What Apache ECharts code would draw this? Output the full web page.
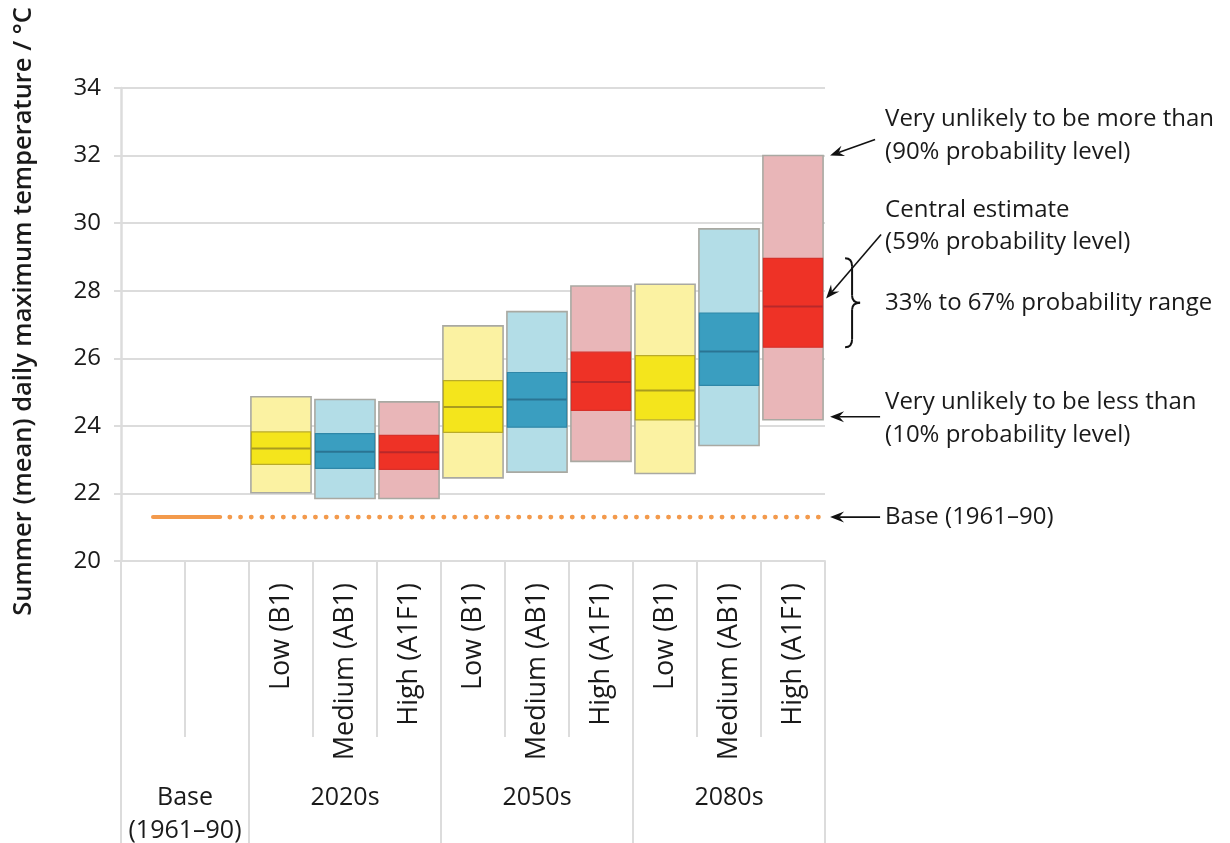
<!DOCTYPE html>
<html>
<head>
<meta charset="utf-8">
<script src="https://cdn.jsdelivr.net/npm/echarts@6/dist/echarts.min.js"></script>
<style>
  html, body { margin: 0; padding: 0; background: #fff; }
  #main { width: 1230px; height: 843px; }
</style>
</head>
<body>
<div id="main"></div>
<script>
// column labels (first two columns = Base 1961-90)
const categories = ['', '', 'Low (B1)', 'Medium (AB1)', 'High (A1F1)',
  'Low (B1)', 'Medium (AB1)', 'High (A1F1)',
  'Low (B1)', 'Medium (AB1)', 'High (A1F1)'];
const scenario = [null, null, 'low', 'med', 'high', 'low', 'med', 'high', 'low', 'med', 'high'];
const groups = ['Base\n(1961–90)', '2020s', '2050s', '2080s'];
const groupCenters = [1, 3.5, 6.5, 9.5];
const groupBounds = [0, 2, 5, 8, 11];
const yTicks = [20, 22, 24, 26, 28, 30, 32, 34];

// probability levels, degC
const p10 = [null, null, 22.02, 21.85, 21.85, 22.46, 22.63, 22.95, 22.59, 23.42, 24.18];
const p33 = [null, null, 22.86, 22.74, 22.71, 23.81, 23.96, 24.46, 24.18, 25.20, 26.33];
const p50 = [null, null, 23.33, 23.23, 23.22, 24.56, 24.78, 25.30, 25.05, 26.20, 27.53];
const p67 = [null, null, 23.82, 23.77, 23.72, 25.34, 25.58, 26.18, 26.08, 27.34, 28.96];
const p90 = [null, null, 24.86, 24.78, 24.71, 26.96, 27.38, 28.14, 28.19, 29.83, 32.00];

const baseTemp = 21.3;
const baseSolid = [[0.5, baseTemp], [1.55, baseTemp]];
const baseDotted = [[1.7, baseTemp], [10.9, baseTemp]];

const palette = {
  low:  {light: '#fbf2a2', band: '#f4e51c', edge: '#b9ab2a', mid: '#a99c1e'},
  med:  {light: '#b3dde7', band: '#3a9ec0', edge: '#2f87a8', mid: '#2a7493'},
  high: {light: '#e9b6b8', band: '#ee3226', edge: '#d8302a', mid: '#b8282a'}
};

const FONT = '"Open Sans", "Noto Sans", sans-serif';
const TXT = '#1a1a1a';
const GRID_C = '#dcdcdc';

const boxData = [];
for (let i = 0; i < categories.length; i++) {
  if (p10[i] == null) continue;
  boxData.push([i, p10[i], p33[i], p50[i], p67[i], p90[i]]);
}

function renderBox(params, api) {
  const idx = api.value(0);
  const c = palette[scenario[idx]];
  const cx = api.coord([idx, 0])[0];
  const w = api.size([1, 0])[0] * 0.94;
  const x = cx - w / 2;
  const y10 = api.coord([idx, api.value(1)])[1];
  const y33 = api.coord([idx, api.value(2)])[1];
  const y50 = api.coord([idx, api.value(3)])[1];
  const y67 = api.coord([idx, api.value(4)])[1];
  const y90 = api.coord([idx, api.value(5)])[1];
  return {
    type: 'group',
    children: [
      {type: 'rect', shape: {x: x, y: y90, width: w, height: y10 - y90},
        style: {fill: c.light, stroke: '#a9a9a2', lineWidth: 1.6}},
      {type: 'rect', shape: {x: x + 0.5, y: y67, width: w - 1, height: y33 - y67},
        style: {fill: c.band, stroke: c.edge, lineWidth: 1.2}},
      {type: 'line', shape: {x1: x + 0.5, y1: y50, x2: x + w - 0.5, y2: y50},
        style: {stroke: c.mid, lineWidth: 2}}
    ]
  };
}

const chart = echarts.init(document.getElementById('main'));

const option = {
  backgroundColor: '#fff',
  animation: false,
  grid: {left: 121, right: 405, top: 88, bottom: 282, outerBoundsMode: 'none'},
  xAxis: [
    {
      type: 'category',
      data: categories,
      position: 'bottom',
      axisLine: {show: true, lineStyle: {color: GRID_C, width: 2}},
      axisTick: {show: true, length: 176, lineStyle: {color: GRID_C, width: 2}},
      axisLabel: {rotate: 90, margin: 22, fontSize: 27, color: TXT, fontFamily: FONT, interval: 0},
      splitLine: {show: false}
    },
    {
      type: 'value',
      min: 0,
      max: 11,
      position: 'bottom',
      axisLine: {show: false},
      axisTick: {show: true, customValues: groupBounds, length: 282, lineStyle: {color: GRID_C, width: 2}},
      axisLabel: {
        customValues: groupCenters,
        formatter: v => groups[groupCenters.indexOf(v)],
        margin: 220, fontSize: 25, lineHeight: 33, color: TXT, fontFamily: FONT
      },
      splitLine: {show: false}
    }
  ],
  yAxis: {
    type: 'value',
    min: 20,
    max: 34,
    interval: 2,
    name: 'Summer (mean) daily maximum temperature / °C',
    nameLocation: 'middle',
    nameGap: 84,
    nameTextStyle: {fontSize: 25.5, fontWeight: 600, color: TXT, fontFamily: FONT, padding: [0, 0, 0, 26]},
    axisLine: {show: true, lineStyle: {color: GRID_C, width: 2.5}},
    axisTick: {show: true, length: 7, lineStyle: {color: GRID_C, width: 2}},
    axisLabel: {margin: 20, fontSize: 24, color: TXT, fontFamily: FONT,
      formatter: v => yTicks.includes(v) ? String(v) : ''},
    splitLine: {show: true, lineStyle: {color: GRID_C, width: 2}}
  },
  series: [
    {
      type: 'line',
      xAxisIndex: 1,
      data: baseSolid,
      showSymbol: false,
      lineStyle: {color: '#f39a4c', width: 4, cap: 'round'},
      z: 3
    },
    {
      type: 'line',
      xAxisIndex: 1,
      data: baseDotted,
      showSymbol: false,
      lineStyle: {color: '#f39a4c', width: 4.8, type: [0.1, 10.6], cap: 'round'},
      z: 3
    },
    {
      type: 'custom',
      xAxisIndex: 0,
      renderItem: renderBox,
      data: boxData,
      encode: {x: 0, y: [1, 2, 3, 4, 5]},
      z: 4
    }
  ]
};

chart.setOption(option);

// annotations pinned to the 2080s High column
function px(xv, yv) {
  return chart.convertToPixel({xAxisIndex: 1, yAxisIndex: 0}, [xv, yv]);
}

function arrow(x1, y1, x2, y2) {
  const a = Math.atan2(y2 - y1, x2 - x1);
  const L = 14, W = 5.5;
  const ca = Math.cos(a), sa = Math.sin(a);
  const bx = x2 - L * ca, by = y2 - L * sa;
  const nx = x2 - L * 0.65 * ca, ny = y2 - L * 0.65 * sa;
  return [
    {type: 'line', shape: {x1: x1, y1: y1, x2: nx, y2: ny}, style: {stroke: '#111', lineWidth: 1.6}},
    {type: 'polygon', shape: {points: [[x2, y2], [bx - sa * W, by + ca * W], [nx, ny], [bx + sa * W, by - ca * W]]},
      style: {fill: '#111'}}
  ];
}

function label(text, x, y) {
  return {type: 'text', style: {text: text, x: x, y: y, fontSize: 24, fontFamily: FONT, fill: TXT, verticalAlign: 'middle'}};
}

function curve(x1, y1, cx, cy, x2, y2) {
  return {type: 'bezierCurve', shape: {x1: x1, y1: y1, cpx1: cx, cpy1: cy, x2: x2, y2: y2},
    style: {stroke: '#111', lineWidth: 2, fill: null}};
}

function seg(x1, y1, x2, y2) {
  return {type: 'line', shape: {x1: x1, y1: y1, x2: x2, y2: y2}, style: {stroke: '#111', lineWidth: 2}};
}

const last = categories.length - 1;
const boxRight = px(last + 0.97, 0)[0];
const yTop = px(0, p90[last])[1];
const yBot = px(0, p10[last])[1];
const yMed = px(0, p50[last])[1];
const yB67 = px(0, p67[last])[1];
const yB33 = px(0, p33[last])[1];
const yBase = px(0, baseTemp)[1];
const tx = boxRight + 62;
const bx = boxRight + 29;
const ym = (yB67 + yB33) / 2;

const brace = [
  curve(bx - 7, yB67, bx, yB67, bx, yB67 + 8),
  seg(bx, yB67 + 8, bx, ym - 7),
  curve(bx, ym - 7, bx, ym, bx + 8, ym),
  curve(bx + 8, ym, bx, ym, bx, ym + 7),
  seg(bx, ym + 7, bx, yB33 - 8),
  curve(bx, yB33 - 8, bx, yB33, bx - 7, yB33)
];

const elements = [].concat(
  arrow(boxRight + 52, yTop - 16, boxRight + 7, yTop),
  arrow(boxRight + 58, yMed - 72, boxRight + 3, yMed - 8),
  arrow(boxRight + 57, yBot - 3, boxRight + 7, yBot - 3),
  arrow(boxRight + 57, yBase, boxRight + 7, yBase),
  brace,
  [
    label('Very unlikely to be more than', tx, yTop - 36),
    label('(90% probability level)', tx, yTop - 3),
    label('Central estimate', tx, yMed - 96),
    label('(59% probability level)', tx, yMed - 64),
    label('33% to 67% probability range', tx, ym),
    label('Very unlikely to be less than', tx, yBot - 18),
    label('(10% probability level)', tx, yBot + 15),
    label('Base (1961–90)', tx, yBase)
  ]
);

chart.setOption({graphic: {elements: elements}});
</script>
</body>
</html>
